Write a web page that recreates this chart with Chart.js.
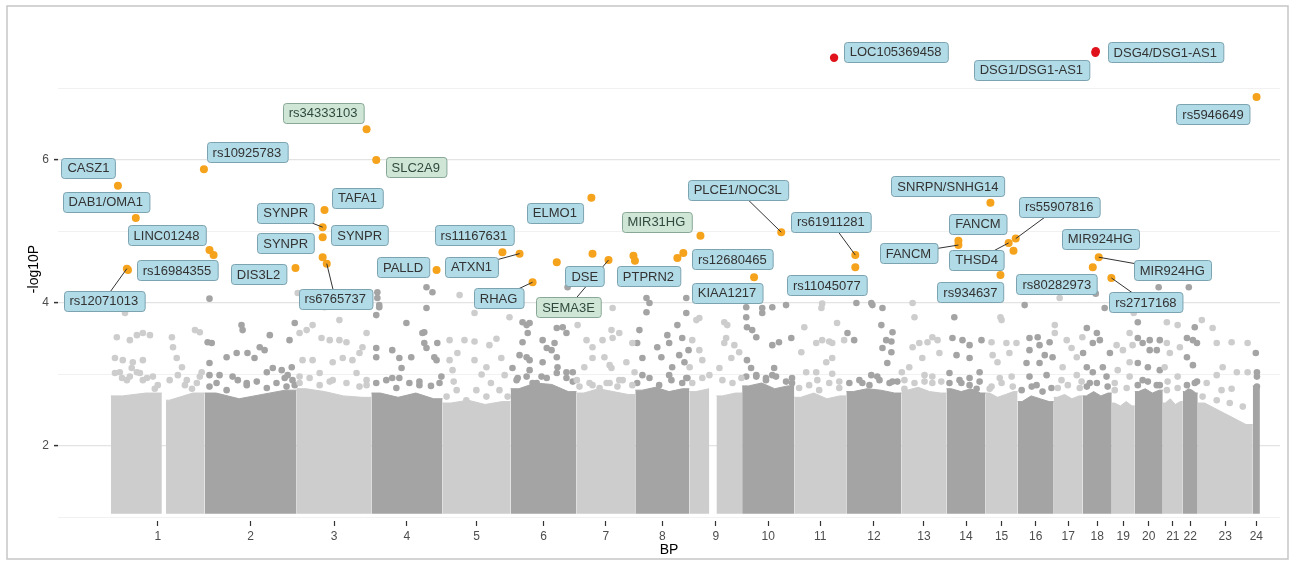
<!DOCTYPE html>
<html>
<head>
<meta charset="utf-8">
<script src="https://cdn.jsdelivr.net/npm/chart.js@4.4.1/dist/chart.umd.min.js"></script>
<style>
  body { margin: 0; background: #fff; }
</style>
</head>
<body>
<canvas id="manhattan" width="1293" height="566"></canvas>
<script>
// chromosomes along the BP axis, lengths in Mb as they appear on the plot
const chrNames = ['1','2','3','4','5','6','7','8','9','10','11','12','13','14','15','16','17','18','19','20','21','22','23','24'];
const chrLenMb = [252,247,201,191,183,177,158,145,142,140,140,148,121,105,86,97,78,78,62,75,54,40,148,19];
// regions without SNPs (centromere gaps), Mb inside the chromosome
const gapChr = [1, 9];
const gapFrom = [137, 54];
const gapTo = [148, 73];

// top of the dense SNP mass (-log10P) in a few bins along each chromosome
const coreTop = [
  [2.70,2.74,2.64,2.74], [2.74,2.66,2.72,2.78], [2.80,2.76,2.70,2.68], [2.74,2.68,2.74,2.66],
  [2.60,2.64,2.58,2.62], [2.80,2.88,2.86,2.76], [2.74,2.80,2.76,2.72], [2.78,2.82,2.76,2.80],
  [2.76,2.80,2.70,2.74], [2.84,2.88,2.80,2.84], [2.68,2.74,2.66,2.70], [2.76,2.80,2.78,2.74],
  [2.78,2.82,2.76,2.74], [2.80,2.76,2.80,2.74], [2.74,2.68,2.72,2.76], [2.62,2.70,2.66,2.62],
  [2.68,2.72,2.66,2.70], [2.70,2.76,2.70,2.74], [2.60,2.56,2.62,2.56], [2.76,2.80,2.74,2.78],
  [2.60,2.66,2.58,2.62], [2.76,2.80,2.78,2.74], [2.60,2.50,2.40,2.30], [2.84,2.80]
];

// scattered SNPs above the dense mass: [Mb in chromosome, -log10P]
const bgPoints = [
  [[16,3.52],[38,3.86],[51,3.48],[70,3.55],[86,3.58],[105,3.55],[11,3.23],[32,3.20],[59,3.17],[86,3.20],[24,3.03],[56,3.09],[78,3.02],[97,2.95],[43,2.92],[118,2.80],[164,3.52],[167,3.38],[177,3.23],[204,2.92],[226,3.62],[239,3.59],[191,3.10],[239,2.97],[218,2.80],
   [11,3.02],[30,2.95],[51,2.97],[70,3.03],[86,2.92],[113,2.97],[126,2.85],[158,2.92],[180,2.99],[199,2.85],[231,2.88],[244,3.03]],
  [[8,3.45],[19,3.44],[13,3.16],[59,3.24],[86,3.30],[99,3.69],[102,3.62],[115,3.30],[134,3.23],[148,3.38],[161,3.34],[175,3.55],[167,3.03],[183,3.09],[207,3.06],[223,2.99],[236,2.92],[234,3.10],[228,3.48],[215,2.95],[75,2.97],[40,2.99],[13,2.99],[113,2.85],[13,4.06],[242,3.72],
   [13,2.83],[32,2.88],[59,2.78],[89,2.92],[113,2.88],[140,2.90],[167,2.81],[193,2.88],[220,2.83],[242,2.85]],
  [[8,3.58],[27,3.62],[43,3.69],[67,3.51],[89,3.48],[115,3.76],[115,3.48],[134,3.45],[150,3.20],[169,3.30],[188,3.58],[177,3.38],[16,3.20],[43,3.20],[62,3.02],[97,3.17],[124,3.23],[161,3.02],[188,2.92],[8,2.97],[89,2.90],[3,4.14],[75,3.94],
   [8,2.88],[35,2.95],[62,2.85],[97,2.92],[134,2.88],[169,2.83],[188,2.85]],
  [[13,3.83],[21,3.97],[16,4.15],[16,4.07],[21,3.94],[13,3.37],[13,3.24],[56,3.34],[75,3.23],[81,3.09],[94,3.72],[107,3.24],[142,3.59],[148,3.37],[56,2.95],[75,2.95],[129,2.85],[137,3.58],[142,3.44],[177,3.44],[175,3.20],[188,2.97],[169,3.24],[148,4.22],[164,4.15],[148,3.93],
   [13,2.88],[40,2.92],[67,2.81],[102,2.88],[129,2.90],[160,2.84],[183,2.88]],
  [[19,3.48],[59,3.48],[86,3.46],[126,3.41],[145,3.50],[27,3.06],[86,3.20],[118,3.10],[158,3.23],[167,2.99],[46,4.11],[86,3.86],[180,3.80],[19,3.20],[40,3.30],[105,3.00],
   [11,2.69],[38,2.78],[64,2.64],[91,2.78],[118,2.69],[153,2.78],[175,2.69],[30,2.90],[130,2.88]],
  [[32,3.73],[43,3.69],[51,3.72],[46,3.58],[32,3.45],[24,3.27],[43,3.24],[51,3.20],[51,3.06],[86,3.48],[97,3.37],[110,3.34],[124,3.65],[140,3.66],[150,3.58],[118,3.44],[124,3.24],[126,3.10],[150,3.03],[167,3.03],[83,2.97],[86,3.17],[5,3.09],[19,2.95],[59,2.88],[153,4.22],
   [16,2.92],[43,2.97],[70,2.88],[97,2.95],[124,3.02],[150,2.95],[167,2.90]],
  [[3,3.69],[27,3.48],[43,3.38],[43,3.23],[70,3.48],[94,3.62],[97,3.51],[75,3.24],[94,3.09],[21,3.10],[43,2.85],[1,2.92],[97,3.93],[115,3.58],[134,3.17],[150,3.44],[156,3.03],[89,3.13],[124,2.92],
   [8,2.83],[35,2.88],[62,2.81],[89,2.88],[110,2.83],[81,2.88],[115,2.92],[150,2.85]],
  [[30,3.87],[11,3.62],[5,3.44],[19,3.23],[59,3.38],[70,3.24],[86,3.55],[91,3.44],[113,3.69],[118,3.27],[126,3.51],[132,3.17],[99,3.10],[137,2.95],[91,2.99],[143,3.34],[137,3.86],[19,2.99],[30,4.07],[38,4.00],[137,4.07],
   [5,2.88],[38,2.95],[64,2.85],[97,2.92],[126,2.88],[140,2.95]],
  [[19,3.76],[27,3.79],[8,3.48],[27,3.34],[35,3.20],[1,3.10],[94,3.73],[102,3.69],[99,3.51],[121,3.41],[134,3.31],[113,3.23],[54,2.99],[81,3.09],[94,3.44],
   [8,2.88],[35,2.95],[89,2.92],[116,2.88],[140,2.95]],
  [[11,3.80],[13,3.66],[27,3.62],[38,3.52],[54,3.86],[13,3.20],[24,3.09],[11,3.94],[81,3.41],[99,3.45],[86,3.09],[81,2.99],[132,3.51],[118,3.97],[81,3.94],[64,2.95],[134,2.88],[38,2.97],[54,3.93],
   [11,2.97],[38,2.99],[64,2.92],[91,2.97],[118,2.90],[134,2.95]],
  [[19,3.31],[27,3.66],[59,3.44],[73,3.93],[75,3.48],[94,3.46],[102,3.44],[115,3.72],[134,3.48],[86,3.17],[102,3.23],[32,3.03],[59,3.03],[102,3.01],[62,2.92],[121,2.90],[75,3.99],
   [13,2.81],[40,2.85],[67,2.78],[94,2.88],[121,2.81]],
  [[27,4.00],[67,4.00],[70,3.97],[97,3.93],[94,3.69],[124,3.59],[107,3.48],[121,3.46],[97,3.37],[121,3.31],[21,3.48],[3,3.58],[110,3.16],[83,2.97],[124,2.90],[43,2.88],[67,2.99],
   [8,2.88],[35,2.92],[62,2.85],[89,2.92],[116,2.88],[137,2.90]],
  [[1,3.03],[30,3.38],[35,3.80],[30,4.00],[48,3.44],[70,3.45],[21,3.10],[56,3.23],[62,2.99],[8,2.80],[83,3.52],[97,3.48],[102,3.30],[83,2.97],
   [8,2.92],[35,2.88],[62,2.90],[83,2.88],[107,2.90]],
  [[21,3.80],[16,3.51],[43,3.48],[62,3.41],[94,3.48],[27,3.27],[62,3.23],[8,3.02],[62,2.95],[89,3.03],[40,2.88],[81,2.80],
   [8,2.88],[35,2.92],[62,2.85],[89,2.90]],
  [[16,3.45],[43,3.76],[56,3.44],[64,3.30],[19,3.27],[83,3.44],[70,2.97],[38,2.95],[11,2.80],[32,3.17],[40,3.80],
   [16,2.83],[43,2.88],[73,2.83]],
  [[19,3.97],[32,3.51],[54,3.52],[59,3.41],[32,3.34],[73,3.27],[86,3.45],[94,3.24],[24,3.16],[59,3.16],[32,2.97],[78,2.99],[51,2.85],
   [11,2.78],[38,2.83],[67,2.76],[91,2.81]],
  [[3,3.69],[3,3.58],[35,3.48],[48,3.37],[62,3.24],[77,3.52],[24,3.10],[62,2.99],[21,2.92],[75,2.90],[16,4.07],
   [11,2.81],[38,2.85],[70,2.81]],
  [[11,3.65],[38,3.58],[46,3.48],[27,3.44],[11,3.10],[27,3.03],[54,3.10],[64,2.97],[1,3.30],[73,3.30],[19,2.88],[35,4.13],[59,3.93],
   [11,2.83],[38,2.88],[67,2.83]],
  [[13,3.41],[30,3.34],[48,3.58],[56,3.41],[48,3.17],[16,3.06],[48,2.97],[8,2.88],[59,3.86],
   [8,2.78],[40,2.81]],
  [[8,3.73],[8,3.51],[21,3.44],[40,3.48],[40,3.34],[59,3.34],[67,3.48],[8,3.16],[35,3.10],[67,3.06],[21,2.92],[59,2.85],[64,4.22],
   [8,2.85],[35,2.90],[67,2.85]],
  [[11,3.73],[40,3.69],[11,3.44],[19,3.30],[46,3.38],[5,3.10],[40,2.97],[13,2.90],
   [11,2.78],[40,2.81]],
  [[11,3.51],[32,3.66],[27,3.48],[38,3.44],[11,3.24],[27,3.13],[38,2.90],[16,4.22],
   [11,2.85],[32,2.88]],
  [[11,3.76],[40,3.65],[51,3.44],[91,3.45],[134,3.44],[67,3.10],[105,3.03],[134,3.03],[51,2.99],[24,2.88],[91,2.80],[64,2.78],
   [13,2.69],[51,2.64],[86,2.60],[121,2.55]],
  [[11,3.03],[11,2.83],[8,3.30],[11,2.97]]
];

// highlighted SNPs
const snpName = ['CASZ1','DAB1/OMA1','LINC01248','','rs16984355','rs12071013','rs10925783','rs34333103','SLC2A9','TAFA1',
  'SYNPR','SYNPR','SYNPR','rs6765737','DIS3L2','PALLD','ELMO1','rs11167631','ATXN1','RHAG',
  'DSE','','SEMA3E','PTPRN2','','MIR31HG','rs12680465','','KIAA1217','PLCE1/NOC3L',
  'LOC105369458','DSG4/DSG1-AS1','DSG1/DSG1-AS1','rs5946649','SNRPN/SNHG14','rs61911281','rs11045077','FANCM','FANCM','rs55907816',
  'THSD4','','rs934637','MIR924HG','MIR924HG','rs2717168'];
const snpChr = [1,1,2,2,1,1,1,3,4,3, 3,3,3,3,2,4,7,5,6,6, 6,7,7,7,7,9,8,8,10,10, 11,18,18,24,15,12,12,14,14,15, 15,15,15,18,18,18];
const snpPos = [19,67,13,24,46,43,250,188,13,75, 70,70,70,81,244,175,40,161,24,59, 124,43,86,153,157,30,129,113,32,105, 107,35,34,10,13,24,24,32,32,81, 62,75,40,43,27,77];
const snpLogP = [5.64,5.19,4.74,4.67,4.46,4.48,5.87,6.43,6.00,5.30, 5.06,4.92,4.64,4.55,4.49,4.46,5.47,4.71,4.69,4.29, 4.57,4.69,4.60,4.66,4.59,4.94,4.70,4.63,4.36,4.99, 7.43,7.52,7.50,6.88,5.40,4.67,4.50,4.87,4.81,4.90, 4.84,4.73,4.39,4.64,4.50,4.35];
const snpGenomeWide = [30, 31, 32];

// labels and the SNP each one points to
const labelText = ['CASZ1','DAB1/OMA1','LINC01248','rs16984355','rs12071013','rs10925783','rs34333103','SLC2A9','TAFA1','SYNPR',
  'SYNPR','SYNPR','rs6765737','DIS3L2','PALLD','ELMO1','rs11167631','ATXN1','RHAG','DSE',
  'SEMA3E','PTPRN2','MIR31HG','rs12680465','KIAA1217','PLCE1/NOC3L','LOC105369458','DSG4/DSG1-AS1','DSG1/DSG1-AS1','rs5946649',
  'SNRPN/SNHG14','rs61911281','rs11045077','FANCM','FANCM','rs55907816','THSD4','rs934637','MIR924HG','MIR924HG',
  'rs80282973','rs2717168'];
const labelSnp = [0,1,2,4,5,6,7,8,9,10, 11,12,13,14,15,16,17,18,19,20, 22,23,25,26,28,29,30,31,32,33, 34,35,36,37,38,39,40,42,44,43, 44,45];

// label placement, repel style: box centre offset from the point in px, segment, green box
const labelLayout = [
  [-29.5,-18,0,0],[-30,-16,0,0],[-43,-15,0,0],[49,0,0,0],[-23,32,1,0],[43,-17,0,0],[-43.5,-16.5,0,1],[39.5,7,0,1],[33,-12.5,0,0],[-37,-14.5,1,0],
  [37,-2,0,0],[-37,-14,0,0],[8.5,35,1,0],[-37,6.5,0,0],[-33.5,-3,0,0],[-36.5,15,0,0],[-28.5,-17,0,0],[-48,13,1,0],[-34,16,1,0],[28,14,0,0],
  [-40,47,1,1],[15,20.5,0,0],[-44,-14,0,1],[49,6.5,0,0],[-27,15.5,0,0],[-43.5,-42.5,1,0],[61.5,-6,0,0],[69.5,1,0,0],[-64,17,0,0],[-43.5,17,0,0],
  [-42.5,-16.5,0,0],[-24.5,-33.5,1,0],[-28.5,18,0,0],[19.5,-17,0,0],[-50,8,1,0],[43.5,-32,1,0],[-32,17,1,0],[-30,17,0,0],[7.5,-28.5,0,0],[73.5,13,1,0],
  [-36,17,0,0],[34.5,24.5,1,0]
];

var family = '"Liberation Sans", Arial, Helvetica, sans-serif';
Chart.defaults.font.family = family;

var lightGrey = '#cdcdcd';
var darkGrey = '#a4a4a4';
function chrColour(c) { return c % 2 === 0 ? lightGrey : darkGrey; }

var chrStart = [];
var acc = 0;
for (var i = 0; i < chrLenMb.length; i++) {
  chrStart.push(acc);
  acc += chrLenMb[i];
}
var chrMid = chrStart.map(function (s, i) { return s + chrLenMb[i] / 2; });

function snpX(i) { return chrStart[snpChr[i] - 1] + snpPos[i]; }

// dense part of every chromosome, as filled areas
var datasets = [];
for (var c = 0; c < chrNames.length; c++) {
  var s = chrStart[c], len = chrLenMb[c], tops = coreTop[c], n = tops.length;
  var pts = [{x: s, y: tops[0]}];
  for (var k = 0; k < n; k++) pts.push({x: s + len * (k + 0.5) / n, y: tops[k]});
  pts.push({x: s + len, y: tops[n - 1]});
  var parts = [pts];
  var g = gapChr.indexOf(c + 1);
  if (g >= 0) {
    var a = s + gapFrom[g], b = s + gapTo[g];
    var left = pts.filter(function (p) { return p.x < a; });
    var right = pts.filter(function (p) { return p.x > b; });
    left.push({x: a, y: left[left.length - 1].y});
    right.unshift({x: b, y: right[0].y});
    parts = [left, right];
  }
  parts.forEach(function (p) {
    datasets.push({
      type: 'line', data: p, showLine: true, tension: 0,
      borderColor: chrColour(c), backgroundColor: chrColour(c), borderWidth: 1,
      pointRadius: 0, fill: {value: 1.05}, order: 3
    });
  });
}

var bgLight = [], bgDark = [];
bgPoints.forEach(function (list, c) {
  list.forEach(function (p) {
    (c % 2 === 0 ? bgLight : bgDark).push({x: chrStart[c] + p[0], y: p[1]});
  });
});
datasets.push({data: bgLight, pointRadius: 3.3, pointBorderWidth: 0, backgroundColor: lightGrey, order: 2});
datasets.push({data: bgDark, pointRadius: 3.3, pointBorderWidth: 0, backgroundColor: darkGrey, order: 2});

var hitsOrange = [], hitsRed = [];
snpChr.forEach(function (ch, i) {
  var p = {x: snpX(i), y: snpLogP[i]};
  if (snpGenomeWide.indexOf(i) >= 0) hitsRed.push(p); else hitsOrange.push(p);
});
datasets.push({data: hitsOrange, pointRadius: 4, pointBorderWidth: 0, backgroundColor: '#f5a21c', order: 1});
datasets.push({data: hitsRed, pointRadius: 4.2, pointBorderWidth: 0, backgroundColor: '#e0131c', order: 0});

var framePlugin = {
  id: 'frame',
  beforeDraw: function (chart) {
    var ctx = chart.ctx;
    ctx.save();
    ctx.fillStyle = '#fff';
    ctx.fillRect(0, 0, chart.width, chart.height);
    ctx.restore();
  },
  afterDraw: function (chart) {
    var ctx = chart.ctx;
    ctx.save();
    ctx.strokeStyle = '#c6c6c6';
    ctx.lineWidth = 1.5;
    ctx.strokeRect(7, 6, 1281, 553);
    ctx.restore();
  }
};

var labelPlugin = {
  id: 'repelLabels',
  afterDatasetsDraw: function (chart) {
    var ctx = chart.ctx, xs = chart.scales.x, ys = chart.scales.y;
    ctx.save();
    ctx.font = '13px ' + family;
    var boxes = labelText.map(function (t, i) {
      var sn = labelSnp[i];
      var px = xs.getPixelForValue(snpX(sn));
      var py = ys.getPixelForValue(snpLogP[sn]);
      var L = labelLayout[i];
      return {t: t, px: px, py: py, cx: px + L[0], cy: py + L[1],
        w: ctx.measureText(t).width + 12, h: 20, seg: L[2], green: L[3]};
    });
    ctx.strokeStyle = '#333';
    ctx.lineWidth = 1;
    boxes.forEach(function (bx) {
      if (!bx.seg) return;
      ctx.beginPath();
      ctx.moveTo(bx.px, bx.py);
      ctx.lineTo(bx.cx, bx.cy);
      ctx.stroke();
    });
    boxes.forEach(function (bx) {
      var x0 = Math.round(bx.cx - bx.w / 2) + 0.5, y0 = Math.round(bx.cy - bx.h / 2) + 0.5;
      ctx.beginPath();
      if (ctx.roundRect) ctx.roundRect(x0, y0, bx.w, bx.h, 3); else ctx.rect(x0, y0, bx.w, bx.h);
      ctx.fillStyle = bx.green ? '#cfe6d7' : '#b1dbe7';
      ctx.fill();
      ctx.lineWidth = 1;
      ctx.strokeStyle = bx.green ? '#88a796' : '#7ca3b0';
      ctx.stroke();
      ctx.fillStyle = bx.green ? '#2f4a3c' : '#333';
      ctx.textAlign = 'center';
      ctx.textBaseline = 'middle';
      ctx.fillText(bx.t, bx.cx, bx.cy + 1);
    });
    ctx.restore();
  }
};

function isEven(c) { return c.tick && c.tick.value % 2 === 0; }

new Chart(document.getElementById('manhattan'), {
  type: 'scatter',
  data: { datasets: datasets },
  options: {
    responsive: false,
    animation: false,
    events: [],
    layout: { padding: { left: 8, right: 13, top: 17, bottom: 5 } },
    plugins: {
      legend: { display: false },
      tooltip: { enabled: false }
    },
    scales: {
      x: {
        type: 'linear',
        min: -142,
        max: 3141,
        afterBuildTicks: function (scale) {
          scale.ticks = chrMid.map(function (v) { return {value: v}; });
        },
        afterFit: function (scale) { scale.height = 40; },
        grid: { display: true, drawOnChartArea: false, drawTicks: true, tickLength: 5, tickColor: '#333', tickWidth: 1.2 },
        border: { display: false },
        ticks: {
          autoSkip: false, maxRotation: 0, padding: 3, color: '#4d4d4d', font: { size: 12 },
          callback: function (v, i) { return chrNames[i]; }
        },
        title: { display: true, text: 'BP', color: '#000', font: { size: 14 }, padding: { top: 0, bottom: 2 } }
      },
      y: {
        min: 0.95,
        max: 8,
        afterBuildTicks: function (scale) {
          scale.ticks = [1, 2, 3, 4, 5, 6, 7].map(function (v) { return {value: v}; });
        },
        afterFit: function (scale) { scale.width = 50; },
        grid: {
          color: function (c) { return isEven(c) ? '#e3e3e3' : '#eeeeee'; },
          lineWidth: function (c) { return isEven(c) ? 1.2 : 0.8; },
          tickColor: function (c) { return isEven(c) ? '#333' : 'rgba(0,0,0,0)'; },
          tickLength: 4,
          tickWidth: 1.5
        },
        border: { display: false },
        ticks: {
          color: '#4d4d4d', font: { size: 12 }, padding: 5,
          callback: function (v) { return v % 2 === 0 ? String(v) : ''; }
        },
        title: { display: true, text: '-log10P', color: '#000', font: { size: 14 }, padding: { top: 18, bottom: 0 } }
      }
    }
  },
  plugins: [framePlugin, labelPlugin]
});
</script>
</body>
</html>
